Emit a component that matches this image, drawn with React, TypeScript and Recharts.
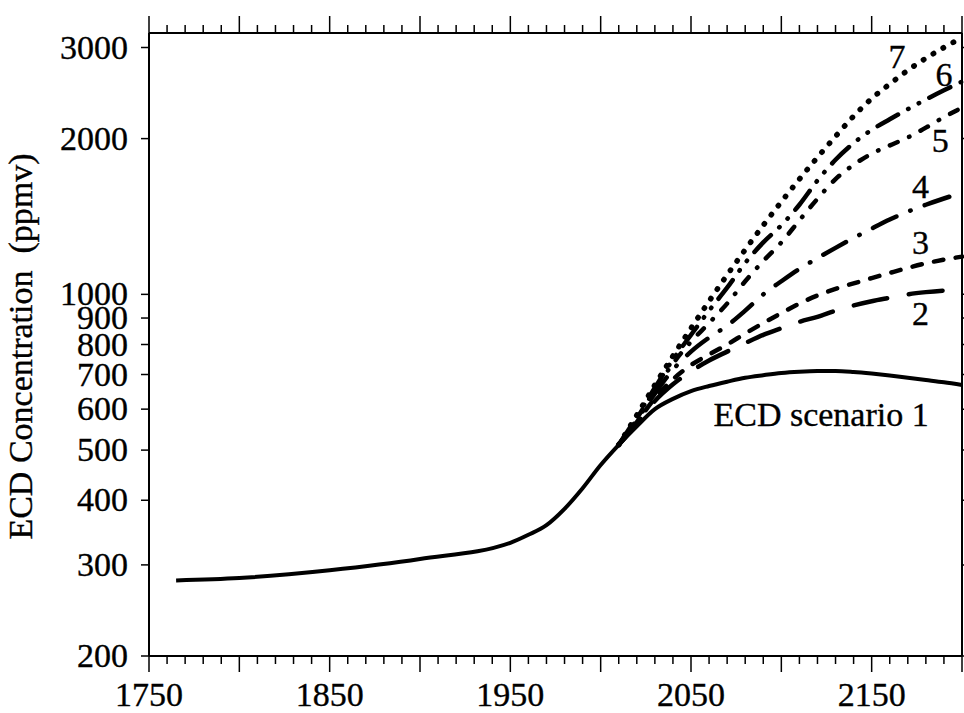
import { LineChart, Line, XAxis, YAxis, ReferenceDot } from 'recharts';

// ECD concentration (ppmv): common history, then the seven scenarios
const histYears = [1765, 1800, 1850, 1900, 1950, 1960, 1970, 1980, 1990, 2000];
const histEcd = [280, 283, 293, 308, 331, 343, 358, 385, 422, 468];

const projYears = [
  2010, 2020, 2030, 2040, 2050, 2060, 2070, 2080, 2090, 2100, 2110,
  2120, 2130, 2140, 2150, 2160, 2170, 2180, 2190, 2200,
];
const scenario1 = [512, 556, 600, 628, 650, 665, 678, 690, 698, 705, 709, 711, 711, 708, 703, 697, 690, 683, 676, 668];
const scenario2 = [512, 562, 622, 670, 710, 745, 775, 805, 835, 860, 885, 905, 930, 952, 970, 985, 1000, 1010, 1017, 1021];
const scenario3 = [512, 566, 630, 685, 730, 765, 800, 840, 880, 920, 960, 995, 1025, 1050, 1075, 1100, 1125, 1148, 1167, 1183];
const scenario4 = [512, 572, 643, 715, 775, 825, 870, 930, 1000, 1060, 1120, 1175, 1230, 1285, 1340, 1395, 1445, 1490, 1532, 1572];
const scenario5 = [512, 576, 653, 735, 810, 880, 960, 1060, 1160, 1260, 1390, 1530, 1670, 1780, 1870, 1940, 2010, 2100, 2200, 2296];
const scenario6 = [512, 580, 660, 748, 835, 930, 1030, 1150, 1260, 1360, 1490, 1660, 1820, 1960, 2080, 2180, 2280, 2380, 2480, 2578];
const scenario7 = [512, 584, 668, 760, 860, 970, 1090, 1220, 1360, 1510, 1670, 1840, 2020, 2210, 2390, 2550, 2710, 2860, 3000, 3135];

const yTicks = [200, 300, 400, 500, 600, 700, 800, 900, 1000, 2000, 3000];
const xTicks: number[] = [];
for (let yr = 1750; yr <= 2200; yr += 10) xTicks.push(yr);

// curve labels: [text, year, ppmv]
const curveLabels: [string, number, number][] = [
  ['7', 2164, 2870],
  ['6', 2190, 2660],
  ['5', 2188, 1983],
  ['4', 2177, 1609],
  ['3', 2177, 1258],
  ['2', 2177, 917],
  ['ECD scenario 1', 2122, 585],
];

const data = [
  ...histYears.map((year, i) => ({ year, s1: histEcd[i] })),
  ...projYears.map((year, i) => ({
    year,
    s1: scenario1[i],
    s2: scenario2[i],
    s3: scenario3[i],
    s4: scenario4[i],
    s5: scenario5[i],
    s6: scenario6[i],
    s7: scenario7[i],
  })),
];

const FONT = "'Liberation Serif', 'Times New Roman', serif";
const FS = 34;
// nudge the thin Times face a little toward the heavier original
const textInk = { fill: '#000', stroke: '#000', strokeWidth: 0.35 };

function BottomTick({ x, y, payload }: any) {
  const yr = payload.value;
  const len = yr % 50 === 0 ? 16 : 8;
  return (
    <g>
      <line x1={x} x2={x} y1={y} y2={y + len} stroke="#000" strokeWidth={1.5} />
      {yr % 100 === 50 && (
        <text x={x} y={y + 50} textAnchor="middle" fontFamily={FONT} fontSize={FS} {...textInk}>
          {yr}
        </text>
      )}
    </g>
  );
}

function TopTick({ x, y, payload }: any) {
  const len = payload.value % 50 === 0 ? 17 : 8;
  return <line x1={x} x2={x} y1={y} y2={y - len} stroke="#000" strokeWidth={1.5} />;
}

function LeftTick({ x, y, payload }: any) {
  return (
    <g>
      <line x1={x - 8} x2={x} y1={y} y2={y} stroke="#000" strokeWidth={1.5} />
      <text x={x - 21} y={y + 11} textAnchor="end" fontFamily={FONT} fontSize={FS} {...textInk}>
        {payload.value}
      </text>
    </g>
  );
}

function RightTick({ x, y }: any) {
  return <line x1={x} x2={x + 8} y1={y} y2={y} stroke="#000" strokeWidth={1.5} />;
}

function YTitle({ viewBox }: any) {
  const cy = viewBox.y + viewBox.height / 2 + 2;
  return (
    <text
      x={32}
      y={cy}
      transform={`rotate(-90, 32, ${cy})`}
      textAnchor="middle"
      fontFamily={FONT}
      fontSize={FS}
      {...textInk}
      style={{ whiteSpace: 'pre' }}
    >
      {'ECD Concentration  (ppmv)'}
    </text>
  );
}

const axisLine = { stroke: '#000', strokeWidth: 2 };

const lineStyles = [
  { key: 's1', dash: undefined, cap: 'butt', w: 4 },
  { key: 's2', dash: '34 22', cap: 'round', w: 4.5 },
  { key: 's3', dash: '9.5 12.5', cap: 'round', w: 4.5 },
  { key: 's4', dash: '26 15 0.5 15', cap: 'round', w: 4.5 },
  { key: 's5', dash: '8.5 12.5 0.5 12.5', cap: 'round', w: 4.5 },
  { key: 's6', dash: '23.5 11.5 0.5 11.5 0.5 11.5', cap: 'round', w: 4.5 },
  { key: 's7', dash: '0.5 11', cap: 'round', w: 5.5 },
];

export default function App() {
  return (
    <div style={{ position: 'absolute', left: 0, top: 0, background: '#fff' }}>
      <LineChart width={964} height={713} data={data} margin={{ top: 0, right: 0, bottom: 0, left: 0 }}>
        <XAxis
          xAxisId="bottom"
          dataKey="year"
          type="number"
          domain={[1750, 2200]}
          ticks={xTicks}
          interval={0}
          height={57}
          tickSize={0}
          tickMargin={0}
          tickLine={false}
          axisLine={axisLine}
          tick={<BottomTick />}
        />
        <XAxis
          xAxisId="top"
          orientation="top"
          dataKey="year"
          type="number"
          domain={[1750, 2200]}
          ticks={xTicks}
          interval={0}
          height={33}
          tickSize={0}
          tickMargin={0}
          tickLine={false}
          axisLine={axisLine}
          tick={<TopTick />}
        />
        <YAxis
          yAxisId="left"
          type="number"
          scale="log"
          domain={[200, 3200]}
          allowDataOverflow
          ticks={yTicks}
          interval={0}
          width={149}
          tickSize={0}
          tickMargin={0}
          tickLine={false}
          axisLine={axisLine}
          tick={<LeftTick />}
          label={<YTitle />}
        />
        <YAxis
          yAxisId="right"
          orientation="right"
          type="number"
          scale="log"
          domain={[200, 3200]}
          allowDataOverflow
          ticks={yTicks}
          interval={0}
          width={2}
          tickSize={0}
          tickMargin={0}
          tickLine={false}
          axisLine={axisLine}
          tick={<RightTick />}
        />
        {lineStyles.map((s) => (
          <Line
            key={s.key}
            xAxisId="bottom"
            yAxisId="left"
            type="monotone"
            dataKey={s.key}
            stroke="#000"
            strokeWidth={s.w}
            strokeDasharray={s.dash}
            strokeLinecap={s.cap as any}
            dot={false}
            activeDot={false}
            isAnimationActive={false}
          />
        ))}
        {curveLabels.map(([text, yr, v]) => (
          <ReferenceDot
            key={text}
            xAxisId="bottom"
            yAxisId="left"
            x={yr}
            y={v}
            r={1}
            shape={(p: any) => (
              <text
                x={p.cx}
                y={p.cy + 11}
                textAnchor="middle"
                fontFamily={FONT}
                fontSize={FS}
                {...textInk}
              >
                {text}
              </text>
            )}
          />
        ))}
      </LineChart>
    </div>
  );
}
